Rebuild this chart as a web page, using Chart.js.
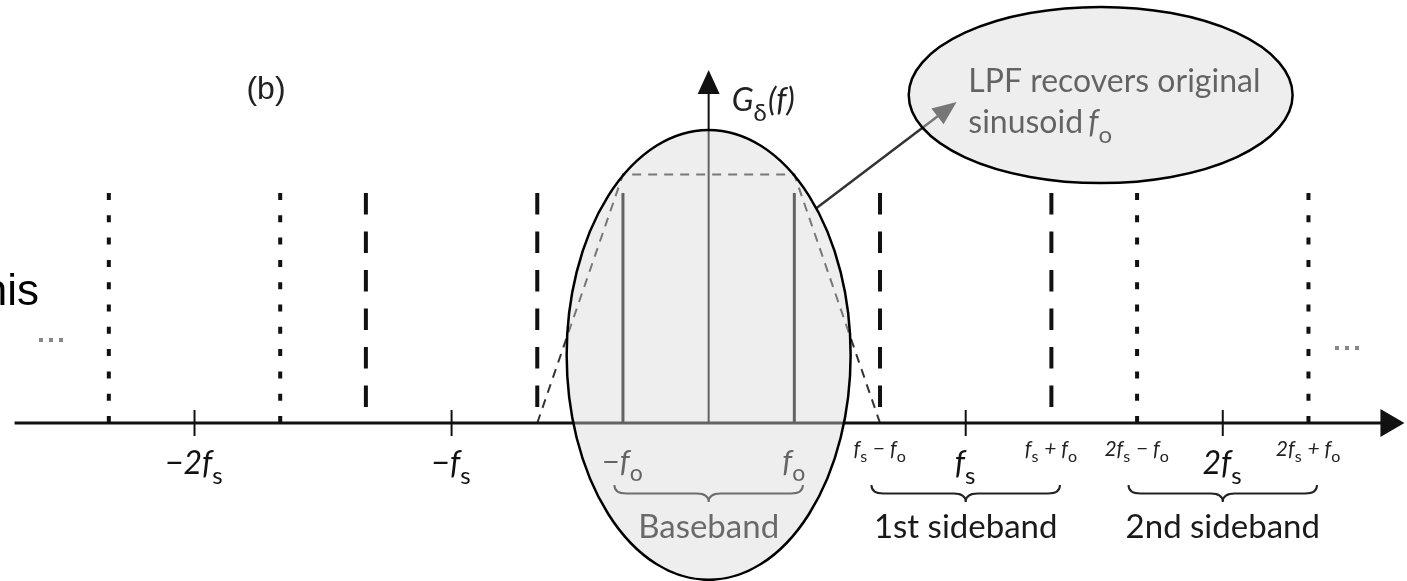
<!DOCTYPE html>
<html>
<head>
<meta charset="utf-8">
<script src="https://cdn.jsdelivr.net/npm/chart.js"></script>
<style>
  html, body { margin: 0; padding: 0; background: #fff; }
  canvas { display: block; }
</style>
</head>
<body>
<canvas id="spectrum" width="1407" height="581"></canvas>
<script>
// Frequencies in units of f_o (f_s = 3 f_o), amplitudes normalised to 1
const basebandFreqs = [-1, 1];
const basebandAmps = [1, 1];
const firstSidebandFreqs = [-4, -2, 2, 4];
const firstSidebandAmps = [1, 1, 1, 1];
const secondSidebandFreqs = [-7, -5, 5, 7];
const secondSidebandAmps = [1, 1, 1, 1];

// low-pass filter response (dashed trapezoid)
const lpfFreqs = [-2, -1, 1, 2];
const lpfGain = [0, 1.08, 1.08, 0];

// axis ticks and labels
const tickFreqs = [-6, -3, 3, 6];
const tickLabels = ['−2f_s', '−f_s', 'f_s', '2f_s'];
const lineLabelFreqs = [-1, 1, 2, 4, 5, 7];
const lineLabels = ['−f_o', 'f_o', 'f_s − f_o', 'f_s + f_o', '2f_s − f_o', '2f_s + f_o'];

// braces under the axis: [from, to]
const bandNames = ['Baseband', '1st sideband', '2nd sideband'];
const bandRanges = [[-1.1, 1.1], [1.9, 4.1], [4.9, 7.1]];

function spikes(freqs, amps, style) {
  return freqs.map((f, i) => Object.assign({
    data: [{ x: f, y: amps[i] }, { x: f, y: 0 }],
    showLine: true,
    pointRadius: 0,
    fill: false
  }, style));
}

// draws italic text where "_c" puts c as an upright subscript
function drawMath(ctx, str, x, y, size, color, align) {
  const runs = [];
  for (let i = 0; i < str.length; i++) {
    if (str[i] === '_' && i + 1 < str.length) {
      runs.push({ t: str[i + 1], sub: true });
      i++;
    } else {
      runs.push({ t: str[i], sub: false });
    }
  }
  const mainFont = 'italic ' + size + 'px Lato';
  const subFont = Math.round(size * 0.74) + 'px Lato';
  let w = 0;
  runs.forEach(r => {
    ctx.font = r.sub ? subFont : mainFont;
    r.w = ctx.measureText(r.t).width + (r.sub ? size * 0.04 : 0);
    w += r.w;
  });
  let cx = align === 'left' ? x : x - w / 2;
  ctx.fillStyle = color;
  ctx.textAlign = 'left';
  ctx.textBaseline = 'alphabetic';
  runs.forEach(r => {
    ctx.font = r.sub ? subFont : mainFont;
    ctx.fillText(r.t, cx, y + (r.sub ? size * 0.3 : 0));
    cx += r.w;
  });
}

function brace(ctx, x1, x2, top, depth) {
  const mid = (x1 + x2) / 2, h = depth / 2, r = 12;
  ctx.beginPath();
  ctx.moveTo(x1, top);
  ctx.quadraticCurveTo(x1, top + h, x1 + r, top + h);
  ctx.lineTo(mid - r, top + h);
  ctx.quadraticCurveTo(mid, top + h, mid, top + depth);
  ctx.quadraticCurveTo(mid, top + h, mid + r, top + h);
  ctx.lineTo(x2 - r, top + h);
  ctx.quadraticCurveTo(x2, top + h, x2, top);
  ctx.stroke();
}

function arrowHead(ctx, x0, y0, x1, y1, len, half) {
  const a = Math.atan2(y1 - y0, x1 - x0);
  ctx.beginPath();
  ctx.moveTo(x1, y1);
  ctx.lineTo(x1 - len * Math.cos(a) + half * Math.sin(a), y1 - len * Math.sin(a) - half * Math.cos(a));
  ctx.lineTo(x1 - len * Math.cos(a) - half * Math.sin(a), y1 - len * Math.sin(a) + half * Math.cos(a));
  ctx.closePath();
  ctx.fill();
}

function dots(ctx, x, y) {
  ctx.fillStyle = '#888';
  for (let k = 0; k < 3; k++) {
    ctx.fillRect(x + k * 10 - 2, y - 2, 4, 4);
  }
}

const diagram = {
  id: 'diagram',
  afterDatasetsDraw(chart) {
    const { ctx, scales: { x, y } } = chart;
    const px = v => x.getPixelForValue(v);
    const py = v => y.getPixelForValue(v);
    const y0 = py(0);
    ctx.save();

    // frequency axis with arrow
    ctx.strokeStyle = '#111';
    ctx.fillStyle = '#111';
    ctx.lineWidth = 3;
    ctx.beginPath();
    ctx.moveTo(px(-8.1), y0);
    ctx.lineTo(px(7.85), y0);
    ctx.stroke();
    arrowHead(ctx, px(0), y0, px(8.12), y0, 24, 14);

    // vertical axis G(f)
    ctx.lineWidth = 2;
    ctx.beginPath();
    ctx.moveTo(px(0), y0);
    ctx.lineTo(px(0), py(1.45));
    ctx.stroke();
    arrowHead(ctx, px(0), y0, px(0), py(1.535), 24, 11);

    // ticks at multiples of f_s
    ctx.lineWidth = 2;
    tickFreqs.forEach(f => {
      ctx.beginPath();
      ctx.moveTo(px(f), y0 - 13);
      ctx.lineTo(px(f), y0 + 13);
      ctx.stroke();
    });
    tickFreqs.forEach((f, i) => drawMath(ctx, tickLabels[i], px(f), 474, 32, '#111', 'center'));

    // spectral line labels
    lineLabelFreqs.forEach((f, i) => {
      if (Math.abs(f) <= 1) {
        drawMath(ctx, lineLabels[i], px(f), 472, 31, '#111', 'center');
      } else {
        drawMath(ctx, lineLabels[i], px(f), 456, 21, '#222', 'center');
      }
    });

    // braces and band names
    ctx.lineWidth = 2;
    ctx.strokeStyle = '#222';
    bandRanges.forEach((r, i) => {
      brace(ctx, px(r[0]), px(r[1]), 485, 17);
      ctx.font = '33px Lato';
      ctx.fillStyle = '#1a1a1a';
      ctx.textAlign = 'center';
      ctx.textBaseline = 'alphabetic';
      ctx.fillText(bandNames[i], px((r[0] + r[1]) / 2), 538);
    });

    // arrow from the filter edge to the note
    ctx.strokeStyle = '#333';
    ctx.fillStyle = '#333';
    ctx.lineWidth = 2.5;
    const ax0 = px(1.26), ay0 = py(0.935), ax1 = px(2.894), ay1 = py(1.396);
    ctx.beginPath();
    ctx.moveTo(ax0, ay0);
    ctx.lineTo(ax1 - 12, ay1 + 9);
    ctx.stroke();
    arrowHead(ctx, ax0, ay0, ax1, ay1, 24, 10);

    // note text
    ctx.font = '32px Lato';
    ctx.fillStyle = '#111';
    ctx.textAlign = 'left';
    ctx.fillText('LPF recovers original', px(3.03), 92);
    ctx.fillText('sinusoid', px(3.03), 133);
    const sw = ctx.measureText('sinusoid ').width;
    drawMath(ctx, 'f_o', px(3.03) + sw - 3, 133, 32, '#111', 'left');

    // translucent ellipses over the baseband and the note
    const ellipses = [
      { cx: 0, cy: 0.296, rx: 1.657, ry: 0.978 },
      { cx: 4.575, cy: 1.426, rx: 2.24, ry: 0.383 }
    ];
    ellipses.forEach(e => {
      ctx.beginPath();
      ctx.ellipse(px(e.cx), py(e.cy), px(e.cx + e.rx) - px(e.cx), py(e.cy) - py(e.cy + e.ry), 0, 0, Math.PI * 2);
      ctx.fillStyle = 'rgba(214,214,214,0.42)';
      ctx.fill();
      ctx.strokeStyle = '#000';
      ctx.lineWidth = 2.5;
      ctx.stroke();
    });

    // axis name
    drawMath(ctx, 'G_δ(f)', px(0.27), 111, 32, '#222', 'left');

    // panel letter and ellipsis marks
    ctx.font = '32px Arial';
    ctx.fillStyle = '#222';
    ctx.textAlign = 'center';
    ctx.fillText('(b)', 266, 99);
    dots(ctx, 41, 340);
    dots(ctx, 1337, 348);

    // slide text cut at the left edge
    ctx.font = '44px Arial';
    ctx.fillStyle = '#000';
    ctx.textAlign = 'right';
    ctx.fillText('this', 39, 305);
    ctx.restore();
  }
};

new Chart(document.getElementById('spectrum'), {
  type: 'scatter',
  data: {
    datasets: [
      ...spikes(basebandFreqs, basebandAmps, { borderColor: '#111', borderWidth: 3 }),
      ...spikes(firstSidebandFreqs, firstSidebandAmps, { borderColor: '#111', borderWidth: 4, borderDash: [21.5, 17] }),
      ...spikes(secondSidebandFreqs, secondSidebandAmps, { borderColor: '#111', borderWidth: 4, borderDash: [7, 15.3] }),
      {
        data: lpfFreqs.map((f, i) => ({ x: f, y: lpfGain[i] })),
        showLine: true,
        pointRadius: 0,
        fill: false,
        borderColor: '#333',
        borderWidth: 2,
        borderDash: [9, 7]
      }
    ]
  },
  options: {
    responsive: false,
    animation: false,
    layout: { padding: 0 },
    plugins: { legend: { display: false }, tooltip: { enabled: false } },
    scales: {
      x: { type: 'linear', display: false, min: -8.27, max: 8.15 },
      y: { type: 'linear', display: false, min: -0.687, max: 1.839 }
    }
  },
  plugins: [diagram]
});
</script>
</body>
</html>
